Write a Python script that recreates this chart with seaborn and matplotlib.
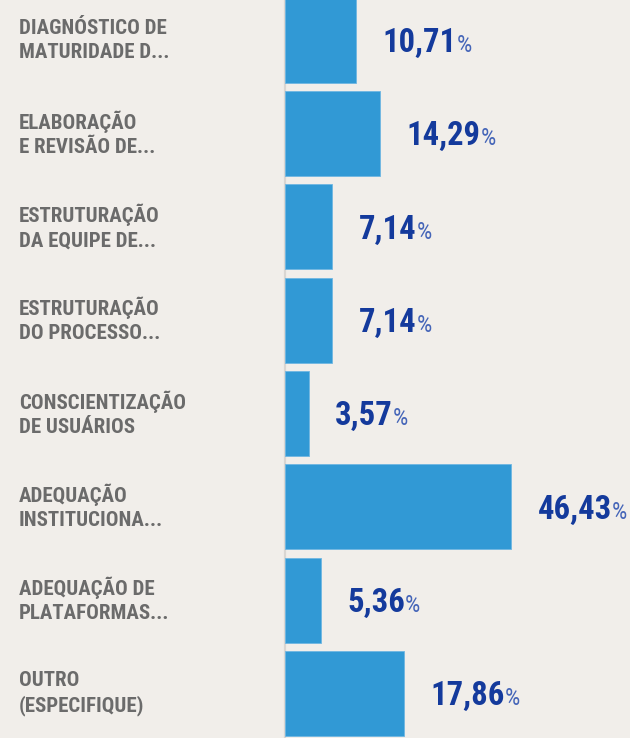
import numpy as np
import pandas as pd
import matplotlib
matplotlib.use('Agg')
import matplotlib.pyplot as plt
import seaborn as sns
from matplotlib import font_manager
from matplotlib.transforms import blended_transform_factory

# Data
categories = [
    'DIAGNÓSTICO DE\nMATURIDADE D...',
    'ELABORAÇÃO\nE REVISÃO DE...',
    'ESTRUTURAÇÃO\nDA EQUIPE DE...',
    'ESTRUTURAÇÃO\nDO PROCESSO...',
    'CONSCIENTIZAÇÃO\nDE USUÁRIOS',
    'ADEQUAÇÃO\nINSTITUCIONA...',
    'ADEQUAÇÃO DE\nPLATAFORMAS...',
    'OUTRO\n(ESPECIFIQUE)',
]
values = [10.71, 14.29, 7.14, 7.14, 3.57, 46.43, 5.36, 17.86]
value_labels = ['10,71', '14,29', '7,14', '7,14', '3,57', '46,43', '5,36', '17,86']

df = pd.DataFrame({'categoria': categories, 'pct': values})

# pick a narrow font if one is installed
names = {f.name for f in font_manager.fontManager.ttflist}
narrow = 'DejaVu Sans'
for cand in ['Roboto Condensed', 'Liberation Sans Narrow', 'Open Sans Condensed', 'DejaVu Sans Condensed']:
    if cand in names:
        narrow = cand
        break

bg = '#f1eeea'
bar_color = '#3199d5'

sns.set_theme(style='white')
plt.rcParams['font.family'] = [narrow, 'DejaVu Sans']

fig = plt.figure(figsize=(6.3, 7.38), dpi=100, facecolor=bg)
ax = fig.add_axes([0, 0, 1, 1], facecolor=bg)

sns.barplot(data=df, x='pct', y='categoria', orient='h', color=bar_color,
            saturation=1, width=0.91, edgecolor='#6fb6e2', linewidth=0.6, ax=ax)

# the largest bar is compressed in the original, so the axis bends above 20
knee, k = 20.0, 0.53


def fwd(x):
    x = np.asarray(x, dtype=float)
    return np.where(x <= knee, x, knee + (x - knee) * k)


def inv(y):
    y = np.asarray(y, dtype=float)
    return np.where(y <= knee, y, knee + (y - knee) / k)


ax.set_xscale('function', functions=(fwd, inv))
ax.set_xlim(-42.86, 80.15)
ax.set_ylim(7.477, -0.431)
ax.axis('off')
ax.axvline(0, color='#d9d6d2', lw=1.6, zorder=0)

# category labels on the left
trans = blended_transform_factory(ax.transAxes, ax.transData)
for i, lab in enumerate(categories):
    ax.text(19 / 630, i, lab, transform=trans, ha='left', va='center',
            fontsize=15, color='#6b6b6b', fontweight='bold',
            fontstretch='condensed', linespacing=1.35)

# value labels, digits then a smaller lighter %
gap = 19      # points between bar end and the number
base = -8.5   # baseline offset from bar centre, points
nums = []
for i, (v, lab) in enumerate(zip(values, value_labels)):
    t = ax.annotate(lab, xy=(v, i), xytext=(gap, base), textcoords='offset points',
                    ha='left', va='baseline', fontsize=23.5, color='#143a9c',
                    fontweight='bold', fontstretch='condensed')
    nums.append(t)

fig.canvas.draw()
renderer = fig.canvas.get_renderer()
for i, (v, t) in enumerate(zip(values, nums)):
    w_pt = t.get_window_extent(renderer).width * 72 / fig.dpi
    ax.annotate('%', xy=(v, i), xytext=(gap + w_pt, base),
                textcoords='offset points', ha='left', va='baseline',
                fontsize=17.5, color='#4565b8', fontstretch='condensed')

fig.savefig('out.png', dpi=100, facecolor=bg)
